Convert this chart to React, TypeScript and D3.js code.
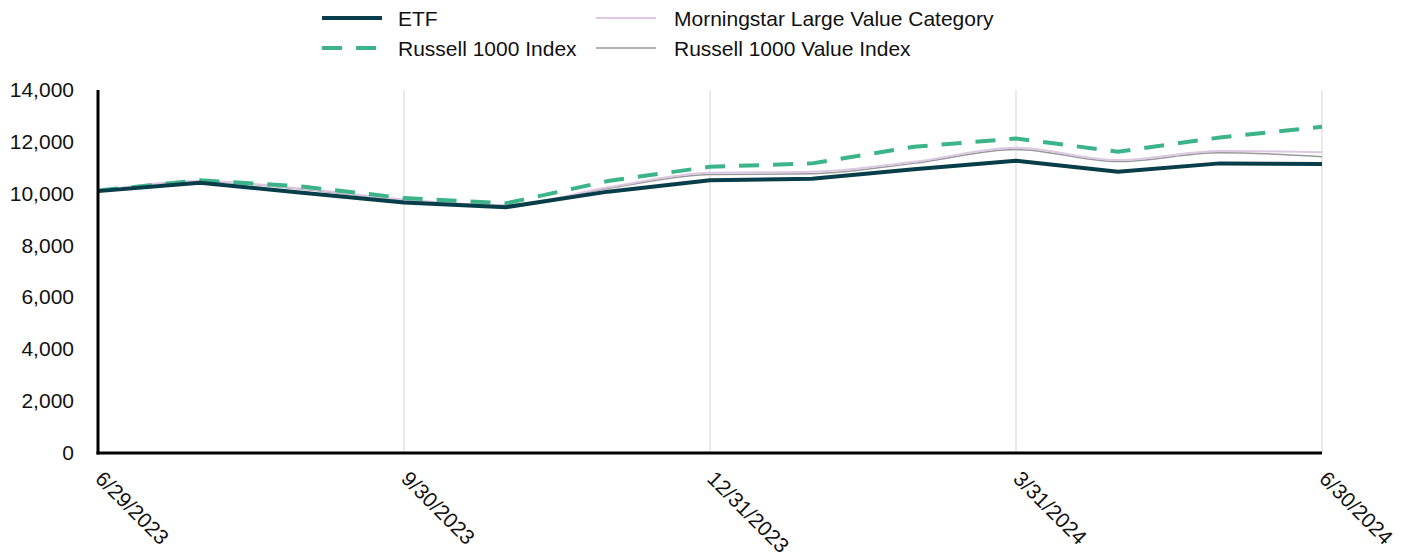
import React from 'react';
import * as d3 from 'd3';

const dates = ['6/29/2023','7/31/2023','8/31/2023','9/30/2023','10/31/2023','11/30/2023','12/31/2023','1/31/2024','2/29/2024','3/31/2024','4/30/2024','5/31/2024','6/30/2024'];
const tickDates = ['6/29/2023','9/30/2023','12/31/2023','3/31/2024','6/30/2024'];
const yTicks = [0, 2000, 4000, 6000, 8000, 10000, 12000, 14000];

const etf = [10100, 10420, 10040, 9660, 9480, 10080, 10520, 10580, 10940, 11270, 10850, 11170, 11150];
const russell1000 = [10120, 10520, 10280, 9830, 9630, 10490, 11040, 11170, 11810, 12130, 11620, 12170, 12580];
const morningstar = [10100, 10490, 10200, 9780, 9560, 10250, 10810, 10850, 11230, 11770, 11300, 11650, 11600];
const russellValue = [10100, 10470, 10170, 9750, 9540, 10200, 10740, 10770, 11170, 11710, 11240, 11580, 11430];

const W = 1407, H = 552;
const left = 98, right = 1322, top = 90, bottom = 453;

const App = () => {
  const x = d3.scalePoint().domain(dates).range([left, right]);
  const y = d3.scaleLinear().domain([0, 14000]).range([bottom, top]);
  const fmt = d3.format(',');

  const line = (vals: number[], curve: d3.CurveFactory) =>
    d3.line<number>().x((_, i) => x(dates[i]) as number).y(d => y(d)).curve(curve)(vals) || '';

  const font = 'Liberation Sans, Arial, sans-serif';
  const fs = 21;

  return (
    <svg width={W} height={H} style={{position: 'absolute', left: 0, top: 0}} fontFamily={font}>
      {/* legend */}
      <g fontSize={fs} fill="#111">
        <line x1={322} x2={382} y1={18} y2={18} stroke="#083d4a" strokeWidth={4} />
        <text x={398} y={26}>ETF</text>
        <line x1={322} x2={382} y1={48} y2={48} stroke="#3cb48a" strokeWidth={4} strokeDasharray="20 14" />
        <text x={398} y={56}>Russell 1000 Index</text>
        <line x1={596} x2={656} y1={18} y2={18} stroke="#dcc8e2" strokeWidth={2} />
        <text x={674} y={26}>Morningstar Large Value Category</text>
        <line x1={596} x2={656} y1={48} y2={48} stroke="#999" strokeWidth={1.5} />
        <text x={674} y={56}>Russell 1000 Value Index</text>
      </g>

      {/* vertical grid */}
      {tickDates.map(d => (
        <line key={d} x1={x(d)} x2={x(d)} y1={top} y2={bottom} stroke="#e3e3e3" strokeWidth={1.5} />
      ))}

      {/* y tick labels */}
      {yTicks.map(t => (
        <text key={t} x={74} y={y(t) + 7} textAnchor="end" fontSize={fs} fill="#111">{fmt(t)}</text>
      ))}

      {/* series */}
      <path d={line(russellValue, d3.curveMonotoneX)} fill="none" stroke="#999" strokeWidth={1.5} />
      <path d={line(morningstar, d3.curveMonotoneX)} fill="none" stroke="#dcc8e2" strokeWidth={2} />
      <path d={line(russell1000, d3.curveLinear)} fill="none" stroke="#3cb48a" strokeWidth={4} strokeDasharray="20 14" />
      <path d={line(etf, d3.curveLinear)} fill="none" stroke="#083d4a" strokeWidth={4} strokeLinejoin="round" />

      {/* axes */}
      <line x1={left} x2={left} y1={top} y2={bottom + 1.5} stroke="#000" strokeWidth={3} />
      <line x1={left - 1.5} x2={right} y1={bottom} y2={bottom} stroke="#000" strokeWidth={3} />

      {/* x tick labels */}
      {tickDates.map(d => (
        <text key={d} transform={`translate(${(x(d) as number) - 4},${bottom + 27}) rotate(45)`} fontSize={fs} fill="#111">{d}</text>
      ))}
    </svg>
  );
};

export default App;
